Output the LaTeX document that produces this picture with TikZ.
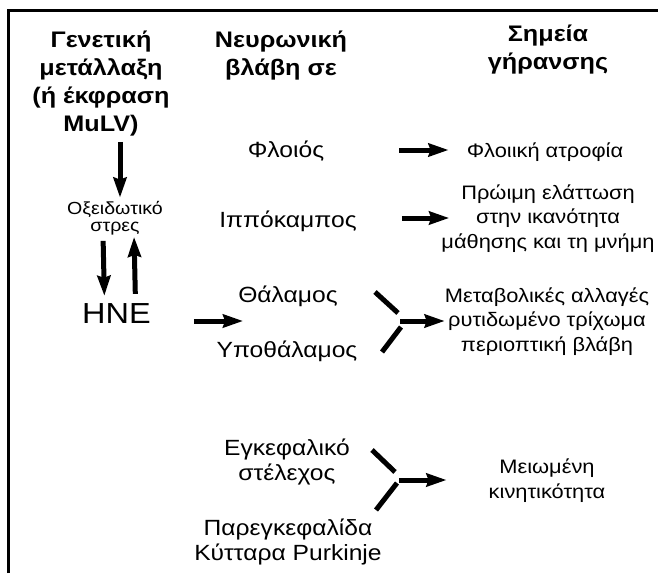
\documentclass[tikz,border=0pt]{standalone}
\usepackage{fontspec}
\setmainfont{Liberation Sans}[FakeStretch=1.12]
\usetikzlibrary{arrows.meta}

\newcommand{\headfont}{\fontsize{22.5}{28}\selectfont\bfseries}
\newcommand{\organfont}{\fontsize{22}{25}\selectfont}
\newcommand{\signfont}{\fontsize{19.5}{24.5}\selectfont}
\newcommand{\oxfont}{\fontsize{17.5}{17}\selectfont}

\begin{document}
\begin{tikzpicture}[x=1pt,y=-1pt,
    head/.style={align=center,font=\headfont,anchor=base,inner sep=0pt},
    organ/.style={align=center,font=\organfont,anchor=base,inner sep=0pt},
    sign/.style={align=center,font=\signfont,anchor=base,inner sep=0pt},
    arr/.style={line width=5pt,-{Stealth[length=20pt,width=13pt,inset=2pt]}},
    fork/.style={line width=5pt}]
    \useasboundingbox (0,0) rectangle (658,573);
    \draw[line width=2.4pt] (8.5,573) -- (8.5,10.5) -- (658,10.5);
    % headings (anchor = last line)
    \node[head] (gen) at (101,131) {Γενετική\\μετάλλαξη\\(ή έκφραση\\MuLV)};
    \node[head] (damage) at (281,75) {Νευρωνική\\βλάβη σε};
    \node[head] (aging) at (548,69) {Σημεία\\γήρανσης};
    % left column
    \node[align=center,font=\oxfont,anchor=base,inner sep=0pt] (ox) at (115,231) {Οξειδωτικό\\στρες};
    \node[font=\fontsize{29}{29}\selectfont,anchor=base,inner sep=0pt] (hne) at (116.5,323) {HNE};
    % brain regions
    \node[organ] (cortex) at (286,157) {Φλοιός};
    \node[organ] (hippo) at (288,227) {Ιππόκαμπος};
    \node[organ] (thal) at (288,302) {Θάλαμος};
    \node[organ] (hypo) at (287,357) {Υποθάλαμος};
    \node[organ] (stem) at (287,480) {Εγκεφαλικό\\στέλεχος};
    \node[organ] (cereb) at (288,560) {Παρεγκεφαλίδα\\Κύτταρα Purkinje};
    % signs of aging
    \node[sign] (atrophy) at (545,157) {Φλοιική ατροφία};
    \node[sign] (memory) at (548,248) {Πρώιμη ελάττωση\\στην ικανότητα\\μάθησης και τη μνήμη};
    \node[sign] (metab) at (547,351) {Μεταβολικές αλλαγές\\ρυτιδωμένο τρίχωμα\\περιοπτική βλάβη};
    \node[sign] (motor) at (547,498) {Μειωμένη\\κινητικότητα};
    \coordinate (j1) at (400,321);
    \coordinate (j2) at (399,480);
    % arrows
    \draw[arr,shorten <=6pt,shorten >=3pt] ([xshift=19pt]gen.south) -- ([xshift=5pt]ox.north);
    \draw[arr,shorten <=6pt,shorten >=7pt] ([xshift=-12pt]ox.south) -- ([xshift=-12pt]hne.north);
    \draw[arr,shorten <=9pt,shorten >=2pt] ([xshift=19pt]hne.north) -- ([xshift=19pt]ox.south);
    \draw[arr,shorten <=43pt,shorten >=-5pt] (hne.east |- j1) -- (thal.west |- j1);
    \draw[arr,shorten <=75pt,shorten >=18pt] ([yshift=7pt]cortex.base east) -- ([yshift=7pt]atrophy.base west);
    \draw[arr,shorten <=45pt,shorten >=-8pt] ([yshift=9pt]hippo.base east) -- ([yshift=9pt]hippo.base east -| memory.west);
    \draw[fork] (j1) ++(-25,-29) -- ++(23,21);
    \draw[fork] (j1) ++(-18,31) -- ++(19,-25);
    \draw[arr,shorten >=0pt] (j1) -- (j1 -| metab.west);
    \draw[fork] (j2) ++(-27,-30) -- ++(23,22);
    \draw[fork] (j2) ++(-23,30) -- ++(21,-27);
    \draw[arr,shorten >=42pt] (j2) -- (j2 -| motor.west);
\end{tikzpicture}
\end{document}
